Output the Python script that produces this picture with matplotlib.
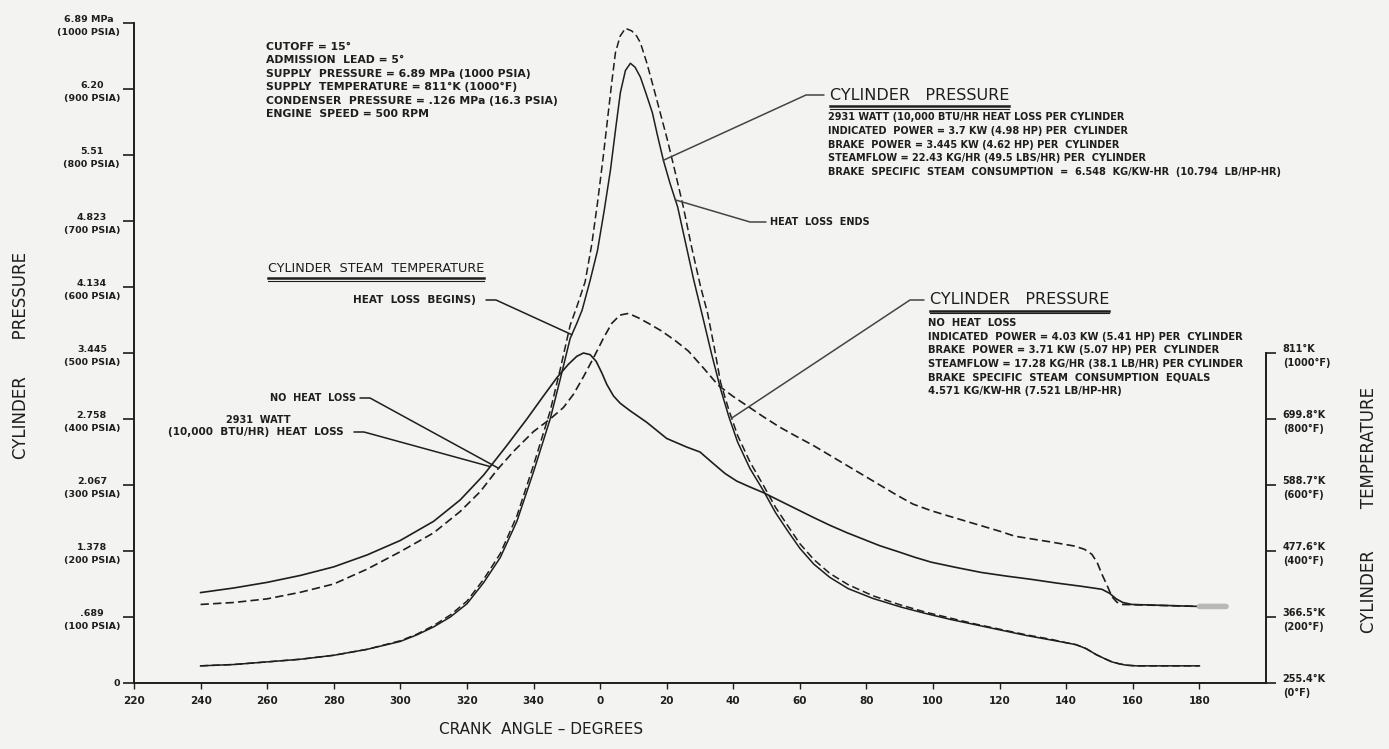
import numpy as np
import matplotlib.pyplot as plt

# crank angle is run on continuously past top dead centre: 360 -> "0", 540 -> "180"
ang_p_loss = [240, 250, 260, 270, 280, 290, 300, 305, 310, 315, 320, 325, 330, 335, 340, 345,
              348, 351, 353, 354.6, 357, 359.2, 361.2, 363.1, 364.8, 366.1, 367.6, 369.1, 370.5,
              372.1, 373.8, 375.7, 377.3, 379, 381, 383.3, 385.7, 388.1, 390.8, 393.5, 396.2,
              398.7, 401.3, 405, 409.2, 412.7, 416.4, 420, 424.2, 429, 434.5, 442, 450.4, 458,
              465.5, 473, 480.5, 488, 495.6, 500, 503, 506, 509, 511.5, 513.7, 516, 518, 521, 540]
p_loss = [26, 28, 32, 36, 42, 51, 63, 73, 85, 100, 120, 152, 190, 245, 320, 400,
          460, 522, 545, 565, 610, 655, 715, 777, 845, 895, 928, 939, 933,
          918, 893, 864, 828, 792, 757, 721, 666, 611, 555, 498, 445,
          403, 365, 325, 290, 258, 230, 204, 180, 160, 143, 128, 115, 105,
          96, 88, 80, 72, 65, 61, 58, 52, 43, 37, 32, 29, 27, 26, 26]

ang_p_noloss = [240, 250, 260, 270, 280, 290, 300, 305, 310, 315, 320, 325, 330, 335, 340, 345,
                348, 351, 353, 355.5, 357.5, 359.2, 361, 362.2, 363.5, 364.6, 366, 367.6, 369.5,
                371, 372.1, 374, 376, 378, 380.2, 382.5, 385, 387.5, 390.2, 392.3, 394.3, 396.2,
                398.7, 401.3, 405, 409.2, 412.7, 416.4, 420, 424.2, 429, 434.5, 442, 450.4, 458,
                465.5, 473, 480.5, 488, 495.6, 500, 503, 506, 509, 511.5, 513.7, 516, 518, 521, 540]
p_noloss = [26, 28, 32, 36, 42, 51, 64, 74, 87, 103, 124, 157, 196, 253, 330, 412,
            475, 542, 570, 608, 665, 727, 800, 853, 910, 955, 980, 992, 988,
            980, 970, 940, 903, 865, 823, 775, 721, 660, 600, 560, 508, 455,
            413, 375, 335, 298, 266, 238, 211, 187, 166, 149, 132, 118, 107,
            98, 89, 81, 73, 66, 61, 58, 52, 43, 37, 32, 29, 27, 26, 26]

# cylinder steam temperature, deg F
ang_t_loss = [240, 250, 260, 270, 280, 290, 300, 310, 318, 325, 332, 338, 343, 347, 350.4,
              353, 355, 357, 358.8, 360.5, 362, 364, 366, 369, 374, 380, 386, 390, 394, 397.5,
              401, 405, 409, 414, 419, 424, 429, 434, 439, 444, 449.5, 454.5, 459.5, 467, 474.5,
              482, 489.6, 497, 504.6, 508, 510.7, 513, 515, 517, 519.7, 540]
t_loss = [274, 288, 305, 326, 352, 388, 432, 490, 555, 630, 720, 800, 870, 925, 965,
          990, 1000, 995, 975, 940, 905, 870, 848, 825, 790, 741, 715, 700, 665, 635,
          612, 594, 577, 552, 527, 502, 478, 456, 436, 416, 398, 381, 366, 350, 335,
          324, 314, 303, 293, 288, 284, 272, 255, 244, 238, 232]

ang_t_noloss = [240, 250, 260, 270, 280, 290, 300, 310, 318, 324, 329, 334, 340, 345, 349,
                352, 355, 358, 361, 363.5, 366, 368.5, 371.4, 374.5, 378.4, 382.5, 386.5, 391,
                395.5, 400, 404, 409, 414, 419, 424, 429, 434, 439, 444, 449, 454, 459.5, 465,
                470, 475, 480, 484.5, 490, 495, 499, 502.5, 505.5, 507.7, 509.3, 510.7, 512.3,
                513.7, 515.2, 516.7, 540]
t_noloss = [238, 244, 255, 275, 300, 345, 398, 455, 520, 580, 645, 702, 762, 800, 835,
            875, 928, 985, 1045, 1090, 1115, 1120, 1107, 1090, 1067, 1038, 1006, 955,
            902, 868, 841, 807, 775, 747, 720, 690, 660, 630, 600, 570, 542, 522, 505,
            490, 475, 460, 445, 436, 428, 421, 415, 405, 390, 365, 330, 295,
            262, 245, 238, 232]

x_ticks = list(range(220, 541, 20))
x_labels = ["220", "240", "260", "280", "300", "320", "340", "0", "20", "40", "60",
            "80", "100", "120", "140", "160", "180"]
p_ticks = list(range(0, 1001, 100))
p_labels = ["0", ".689\n(100 PSIA)", "1.378\n(200 PSIA)", "2.067\n(300 PSIA)",
            "2.758\n(400 PSIA)", "3.445\n(500 PSIA)", "4.134\n(600 PSIA)",
            "4.823\n(700 PSIA)", "5.51\n(800 PSIA)", "6.20\n(900 PSIA)",
            "6.89 MPa\n(1000 PSIA)"]
t_ticks = [0, 200, 400, 600, 800, 1000]
t_labels = ["255.4°K\n(0°F)", "366.5°K\n(200°F)", "477.6°K\n(400°F)",
            "588.7°K\n(600°F)", "699.8°K\n(800°F)", "811°K\n(1000°F)"]

BG = "#f3f3f1"
INK = "#1e1e1e"
W, H = 1389, 749


def px(x, y):
    # figure pixel (from top left) -> figure fraction
    return x / W, 1 - y / H


fig = plt.figure(figsize=(W / 100, H / 100), dpi=100, facecolor=BG)
ax = fig.add_axes([134 / W, 66 / H, 1132 / W, 660 / H])
ax.set_facecolor(BG)
ax.set_xlim(220, 560)
ax.set_ylim(0, 1000)
ax2 = ax.twinx()
ax2.set_ylim(0, 2000)  # 0..1000 F sits on 0..500 psia

for s in ["top", "right"]:
    ax.spines[s].set_visible(False)
for s in ["top", "left", "bottom"]:
    ax2.spines[s].set_visible(False)
ax.spines["left"].set_bounds(0, 1000)
ax2.spines["right"].set_bounds(0, 1000)
for sp in [ax.spines["left"], ax.spines["bottom"], ax2.spines["right"]]:
    sp.set_linewidth(1.4)
    sp.set_color(INK)

ax.set_xticks(x_ticks)
ax.set_xticklabels(x_labels, fontsize=7.5, fontweight="bold", color=INK)
ax.set_yticks(p_ticks)
ax.set_yticklabels(p_labels, fontsize=6.8, fontweight="bold", color=INK,
                   multialignment="center", linespacing=1.5)
ax.tick_params(axis="x", length=4, width=1, pad=5, colors=INK)
ax.tick_params(axis="y", length=8, width=1.2, pad=2, colors=INK)
ax2.set_yticks(t_ticks)
ax2.set_yticklabels(t_labels, fontsize=7, fontweight="bold", color=INK,
                    multialignment="left", linespacing=1.5)
ax2.tick_params(axis="y", length=7, width=1.2, pad=5, colors=INK)

ax.plot(ang_p_loss, p_loss, color=INK, lw=1.1)
ax.plot(ang_p_noloss, p_noloss, color=INK, lw=1.1, ls=(0, (5, 2.5)))
ax2.plot(ang_t_loss, t_loss, color=INK, lw=1.2)
ax2.plot(ang_t_noloss, t_noloss, color=INK, lw=1.2, ls=(0, (5, 2.5)))
# grey arrow shaft at the end of the temperature traces
ax2.annotate("", xy=(ang_t_loss[-1] + 8, t_loss[-1]), xytext=(ang_t_loss[-1], t_loss[-1]),
             arrowprops=dict(arrowstyle="-", lw=4, color="#b8b8b8", shrinkA=0, shrinkB=0))

fig.text(*px(266, 42), "CUTOFF = 15°\nADMISSION  LEAD = 5°\nSUPPLY  PRESSURE = 6.89 MPa (1000 PSIA)\n"
         "SUPPLY  TEMPERATURE = 811°K (1000°F)\nCONDENSER  PRESSURE = .126 MPa (16.3 PSIA)\n"
         "ENGINE  SPEED = 500 RPM", va="top", linespacing=1.42,
         fontsize=7.8, fontweight="bold", color=INK)

titles = []
titles.append(fig.text(*px(268, 268), "CYLINDER  STEAM  TEMPERATURE", fontsize=9.2,
                       color=INK, va="center"))
titles.append(fig.text(*px(830, 95), "CYLINDER   PRESSURE", fontsize=11.5, color=INK, va="center"))
titles.append(fig.text(*px(930, 300), "CYLINDER   PRESSURE", fontsize=11.5, color=INK, va="center"))

fig.text(*px(828, 112), "2931 WATT (10,000 BTU/HR HEAT LOSS PER CYLINDER\n"
         "INDICATED  POWER = 3.7 KW (4.98 HP) PER  CYLINDER\n"
         "BRAKE  POWER = 3.445 KW (4.62 HP) PER  CYLINDER\n"
         "STEAMFLOW = 22.43 KG/HR (49.5 LBS/HR) PER  CYLINDER\n"
         "BRAKE  SPECIFIC  STEAM  CONSUMPTION  =  6.548  KG/KW-HR  (10.794  LB/HP-HR)",
         va="top", linespacing=1.47, fontsize=7, fontweight="bold", color=INK)
fig.text(*px(928, 318), "NO  HEAT  LOSS\n"
         "INDICATED  POWER = 4.03 KW (5.41 HP) PER  CYLINDER\n"
         "BRAKE  POWER = 3.71 KW (5.07 HP) PER  CYLINDER\n"
         "STEAMFLOW = 17.28 KG/HR (38.1 LB/HR) PER CYLINDER\n"
         "BRAKE  SPECIFIC  STEAM  CONSUMPTION  EQUALS\n"
         "4.571 KG/KW-HR (7.521 LB/HP-HR)",
         va="top", linespacing=1.45, fontsize=7.2, fontweight="bold", color=INK)

fig.text(*px(353, 300), "HEAT  LOSS  BEGINS)", va="center", fontsize=7.5, fontweight="bold", color=INK)
fig.text(*px(270, 398), "NO  HEAT  LOSS", va="center", fontsize=7, fontweight="bold", color=INK)
fig.text(*px(258, 420), "2931  WATT", va="center", ha="center", fontsize=7, fontweight="bold", color=INK)
fig.text(*px(168, 432), "(10,000  BTU/HR)  HEAT  LOSS", va="center", fontsize=7.5,
         fontweight="bold", color=INK)
fig.text(*px(770, 222), "HEAT  LOSS  ENDS", va="center", fontsize=7, fontweight="bold", color=INK)

fig.text(*px(541, 729), "CRANK  ANGLE – DEGREES", ha="center", va="center", fontsize=11, color=INK)
fig.text(*px(21, 356), "CYLINDER       PRESSURE", rotation=90, ha="center", va="center",
         fontsize=12, color=INK)
fig.text(*px(1369, 510), "CYLINDER        TEMPERATURE", rotation=90, ha="center", va="center",
         fontsize=12, color=INK)


def leader(axis, ang, val, at, x, y, arm=12, color=INK):
    yv = np.interp(at, ang, val)
    axis.annotate("", xy=(at, yv), xycoords="data", xytext=px(x, y), textcoords="figure fraction",
                  arrowprops=dict(arrowstyle="-", lw=1.1, color=color, shrinkA=0, shrinkB=0,
                                  connectionstyle=f"arc,angleA={0 if arm > 0 else 180},"
                                                  f"armA={abs(arm)},angleB=0,armB=0,rad=0"))


leader(ax, ang_p_loss, p_loss, 351.5, 486, 300, arm=10)
leader(ax2, ang_t_noloss, t_noloss, 329.5, 360, 398, arm=10)
leader(ax2, ang_t_loss, t_loss, 327, 354, 432, arm=10)
leader(ax, ang_p_loss, p_loss, 379, 824, 95, arm=-18, color="#444444")
leader(ax, ang_p_loss, p_loss, 382.6, 766, 222, arm=-16, color="#444444")
leader(ax, ang_p_noloss, p_noloss, 399.5, 924, 300, arm=-14, color="#444444")

fig.canvas.draw()
inv = fig.transFigure.inverted()
for t in titles:
    bb = t.get_window_extent()
    for off, lw in [(3, 1.8), (6, 0.8)]:
        (x0, y0), (x1, y1) = inv.transform([(bb.x0, bb.y0 - off), (bb.x1, bb.y0 - off)])
        fig.add_artist(plt.Line2D([x0, x1], [y0, y1], color=INK, lw=lw))

fig.savefig("out.png", dpi=100, facecolor=BG)
